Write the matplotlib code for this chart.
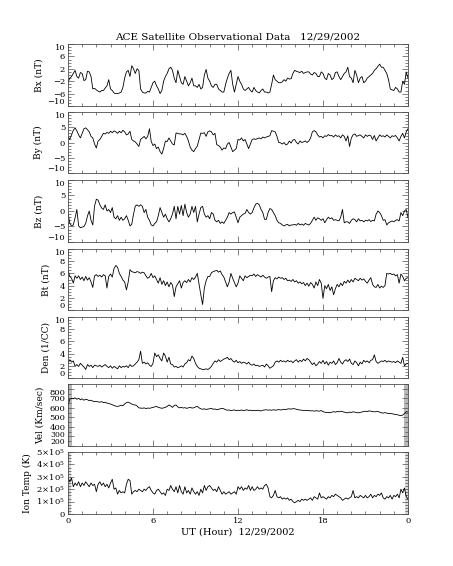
import numpy as np
import matplotlib
matplotlib.use("Agg")
from matplotlib import pyplot as plt
from matplotlib.ticker import MultipleLocator
from matplotlib.transforms import ScaledTranslation

# hours, sampled every 1/8 hour from 0 to 24
hours = np.arange(193) / 8.0

bx = [-2.5, -1.0, -0.5, 0.5, 1.5, -0.5, -1.0, 0.8,
      0.5, -1.8, -1.5, 1.2, 1.0, -0.5, -4.5, -4.3,
      -4.8, -5.2, -5.5, -5.0, -5.0, -4.2, -3.5, -1.5,
      -4.5, -5.0, -5.8, -6.0, -6.0, -5.8, -5.5, -4.0,
      -1.0, 1.0, 1.5, -0.5, 3.0, 2.0, 0.5, 2.0,
      1.5, -4.5, -5.5, -5.8, -5.8, -5.3, -5.5, -4.0,
      -2.5, -2.0, -3.5, -4.5, -6.0, -5.0, -2.0, -0.5,
      0.5, 2.0, 2.5, 1.5, -1.0, -2.5, 1.5, -0.5,
      -2.5, -3.0, -0.5, -2.0, -3.5, -2.5, -1.0, -3.5,
      -3.5, -4.0, -3.0, -4.5, -4.0, 0.0, 1.8, -1.0,
      -2.0, -3.5, -4.0, -3.0, -3.0, -4.5, -5.0, -5.5,
      -5.5, -3.0, -1.0, 0.5, 1.5, -3.0, -5.5, -3.0,
      -0.5, -2.0, -3.0, -4.5, -5.0, -4.5, -4.0, -5.0,
      -5.5, -4.0, -5.0, -5.5, -5.8, -5.0, -4.5, -5.5,
      -5.5, -5.8, -5.5, -3.0, 0.0, -1.5, -2.0, -2.5,
      -2.5, -2.2, -1.5, -2.0, -1.0, -1.3, -1.2, 0.5,
      1.5, 1.2, 1.0, 0.8, 1.2, 0.5, 0.8, 1.0,
      1.0, 0.3, 0.0, 0.8, 0.5, -0.5, -0.5, 1.0,
      0.5, -1.0, -1.5, 0.5, 0.0, -1.5, -1.0, 0.8,
      1.0, -0.5, -1.5, -0.5, 0.5, 1.0, 2.5, -0.5,
      -1.0, -2.5, 1.5, 0.0, -2.5, -1.0, -0.5, -2.5,
      -2.0, -1.0, -0.5, 0.0, 0.5, 1.5, 2.0, 2.8,
      3.5, 2.5, 2.5, 1.5, 0.5, -1.5, -4.5, -4.8,
      -5.0, -4.0, -4.5, -5.5, -5.5, -2.0, -3.0, 1.0,
      -1.0]

by = [2.0, 1.0, 2.5, 4.0, 4.8, 3.8, 2.5, 1.5,
      3.0, 4.5, 4.8, 4.2, 3.5, 2.0, 1.5, -0.5,
      -1.8, 0.5, 1.0, 2.0, 3.0, 2.8, 3.3, 3.0,
      3.7, 3.2, 3.8, 3.5, 3.0, 3.7, 3.2, 4.0,
      3.5, 2.5, 2.8, 3.7, 1.0, 0.5, 0.2, -0.5,
      -1.3, 1.0, 1.5, 2.0, 1.2, 2.0, 4.5, 0.3,
      -1.0, -0.5, -2.0, -1.5, -3.0, -3.8, -2.0, 0.5,
      0.3, 1.5, 0.5, -0.5, -0.8, 3.1, 3.0, 2.8,
      2.8, 2.5, 3.0, 2.0, 0.5, -1.5, -2.5, -3.0,
      -2.0, -1.2, 1.0, 3.1, 3.0, 3.2, 2.0, 3.5,
      3.8, 3.5, 2.5, 3.0, -0.7, -1.0, -1.5, -2.5,
      -1.8, -2.0, -0.5, 0.0, -1.5, -3.0, -2.5, -2.0,
      1.0, 0.8, 1.5, 0.5, 1.0, -0.5, -2.0, -0.5,
      1.0, 1.2, 1.0, 1.3, 1.5, 1.2, 1.8, 1.5,
      1.8, 2.0, 2.2, 3.9, 3.7, 3.5, 2.0, 0.0,
      -0.1, -0.5, 0.0, -0.8, -0.5, 0.5, -0.2, 0.8,
      1.0, 0.0, -0.5, 0.5, 0.0, 0.2, 0.5, 0.0,
      0.5, 1.5, 3.5, 3.9, 3.5, 2.5, 1.8, 2.0,
      1.5, 2.2, 2.0, 2.6, 2.2, 2.3, 1.8, 2.5,
      2.0, 2.2, 1.5, 2.5, 2.0, 0.5, 2.2, -1.3,
      1.5, 2.5, 2.8, 2.0, 2.3, 2.5, 2.0, 1.5,
      2.5, 2.0, 2.4, 2.2, 1.0, 2.3, 0.5, 1.5,
      2.5, 2.0, 2.2, 1.8, 2.5, 2.0, 1.5, 2.2,
      2.0, 2.3, 1.5, 0.5, 2.0, 3.0, 1.5, 3.5,
      4.5]

bz = [-0.5, -4.0, -4.8, -4.5, -2.2, 0.5, -4.8, -5.4,
      -5.2, -5.0, -4.0, -1.6, 0.0, -3.0, -4.5, 1.6,
      3.8, 3.5, 2.0, 1.0, 0.5, 2.0, 0.0, 0.5,
      -0.5, 1.1, -2.0, -2.5, -1.5, -3.0, -2.0, -3.0,
      -2.5, -1.5, -3.0, -4.8, -4.3, -1.0, 1.6, 2.0,
      1.5, 2.0, 1.5, -0.5, 0.5, -2.0, -3.0, -4.5,
      -4.8, -4.0, -3.5, -1.5, 1.1, -0.5, -2.0, -1.0,
      -2.5, -3.5, -2.5, -1.0, 1.5, -2.5, 1.5, -1.0,
      1.8, -1.5, 2.2, -0.5, -2.0, -1.0, 1.5, -0.5,
      1.5, -3.5, -1.0, 1.1, 1.5, -1.0, -2.0, -1.5,
      -2.5, -0.5, -1.0, -3.0, -3.5, -3.0, -4.0, -3.5,
      -4.0, -3.0, -2.0, -0.5, -1.0, -0.5, -0.3, -2.0,
      -3.8, -2.0, -1.5, -1.0, -0.8, 0.5, -0.5, -1.0,
      -0.5, 1.0, 2.2, 2.5, 2.0, 0.5, -0.5, -2.7,
      -2.7, -0.5, 0.8, 0.5, -0.5, -1.5, -3.0, -3.8,
      -4.0, -4.5, -4.8, -4.5, -4.3, -4.8, -4.5, -4.5,
      -4.3, -4.6, -4.0, -4.5, -4.2, -4.6, -4.0, -4.3,
      -4.5, -4.0, -3.0, -2.0, -3.0, -2.2, -2.5, -3.0,
      -2.5, -3.8, -2.8, -2.0, -2.5, -2.2, -3.0, -2.8,
      -3.0, -3.2, -2.0, 0.5, -3.8, -3.5, -3.5, -4.0,
      -3.0, -2.5, -2.8, -3.5, -2.5, -3.2, -3.0, -3.5,
      -3.0, -3.2, -2.8, -3.4, -3.0, -3.2, -1.0, 0.0,
      -0.5, -1.5, -3.0, -2.8, -4.5, -3.8, -3.5, -3.2,
      -3.5, -3.0, -2.8, -3.2, -0.5, -1.5, 0.0, 0.5,
      -2.2]

bt = [6.6, 5.5, 5.2, 4.4, 5.6, 5.2, 5.6, 5.0,
      5.4, 4.8, 5.5, 4.9, 5.3, 4.6, 3.7, 5.6,
      5.8, 5.5, 5.7, 5.4, 5.8, 5.6, 3.6, 5.5,
      5.9, 5.4, 6.8, 7.3, 7.0, 6.0, 5.5, 4.9,
      4.6, 3.3, 4.6, 6.6, 6.3, 6.2, 6.1, 6.3,
      6.2, 6.0, 6.2, 6.1, 5.6, 5.2, 5.4, 6.0,
      5.3, 5.6, 5.0, 4.4, 5.3, 4.2, 4.8, 4.0,
      4.6, 3.8, 4.5, 4.1, 2.2, 3.8, 4.3, 4.8,
      3.6, 4.5, 4.8, 4.5, 5.0, 4.6, 5.3, 5.0,
      5.4, 6.0, 4.2, 2.5, 0.9, 3.6, 4.8, 5.5,
      5.5, 6.1, 6.3, 6.4, 6.5, 6.2, 6.4, 5.8,
      5.4, 4.6, 3.8, 4.6, 6.0, 5.2, 4.5, 3.8,
      4.4, 5.6, 5.2, 4.8, 5.6, 5.3, 5.5, 5.7,
      5.6, 5.9, 5.5, 5.8, 5.6, 5.4, 5.7, 5.4,
      5.2, 5.4, 5.5, 3.0, 4.8, 5.3, 5.1, 5.4,
      5.2, 5.3, 5.0, 5.2, 4.8, 4.9, 4.7, 5.0,
      4.6, 4.8, 4.4, 4.6, 4.3, 4.5, 4.0, 4.4,
      3.9, 4.5, 4.2, 3.6, 4.6, 4.0, 5.0, 4.4,
      1.9, 4.0, 3.5, 4.2, 3.2, 3.8, 2.5, 3.5,
      4.2, 3.8, 4.4, 4.0, 4.7, 4.4, 4.9, 4.5,
      5.0, 4.6, 5.2, 5.0, 4.8, 5.2, 4.9, 5.1,
      4.7, 4.4, 4.9, 5.3, 4.2, 3.8, 3.7, 4.2,
      3.6, 3.9, 3.7, 4.0, 6.0, 5.9, 6.0, 5.8,
      5.9, 5.6, 5.8, 4.4, 5.9, 5.5, 4.8, 5.2,
      5.3]

den = [2.4, 3.0, 2.6, 2.8, 1.9, 2.2, 1.9, 2.4,
       2.1, 1.8, 1.4, 2.2, 1.9, 2.1, 1.7, 2.1,
       2.0, 1.9, 2.1, 1.8, 2.0, 2.2, 1.9, 1.7,
       2.0, 1.6, 1.9, 1.7, 1.5, 2.0, 1.7, 1.9,
       1.8, 2.0, 1.7, 2.2, 1.9, 2.0, 2.3, 2.6,
       3.0, 4.4, 2.4, 2.6, 2.3, 2.5, 2.1, 1.9,
       2.4, 4.1, 3.5, 3.8, 3.2, 2.8, 4.1, 3.6,
       2.6, 3.4, 2.3, 2.2, 1.8, 1.9, 1.7, 1.8,
       2.0, 1.8, 2.3, 2.5, 3.0, 2.8, 3.6, 3.2,
       2.4, 1.9, 1.6, 1.5, 1.4, 1.4, 1.5, 1.4,
       1.6, 1.9, 2.4, 2.8, 2.6, 3.0, 2.7, 2.9,
       3.1, 3.2, 3.4, 3.0, 3.2, 2.8, 2.6, 2.9,
       2.5, 2.7, 2.4, 2.6, 2.5, 2.3, 2.6, 2.2,
       2.1, 2.3, 2.0, 2.1, 1.9, 2.0, 2.1, 1.8,
       2.3, 2.0, 1.6, 1.8, 2.0, 2.6, 2.8, 2.6,
       2.9, 2.7, 2.8, 2.6, 2.9, 2.7, 2.8, 2.5,
       2.8, 3.0, 2.6, 2.9, 2.7, 3.1, 2.8, 3.2,
       3.0, 2.6, 2.2, 2.5, 2.0, 2.3, 2.7, 2.4,
       2.9, 2.3, 2.7, 2.1, 2.6, 2.4, 2.8, 2.2,
       2.5, 3.2, 2.6, 2.3, 2.8, 3.0, 2.7, 3.1,
       2.4, 2.2, 2.8, 2.5, 2.0, 2.6, 2.3, 2.9,
       2.6, 2.8, 2.5, 2.9, 3.0, 3.8, 2.7, 2.4,
       2.6, 2.8, 2.7, 2.9, 2.6, 2.8, 2.7, 2.6,
       2.7, 2.5, 2.8, 2.6, 2.4, 3.4, 2.0, 2.3,
       2.4]

vel = [630, 690, 700, 695, 705, 690, 700, 685,
       695, 680, 690, 685, 675, 680, 670, 665,
       668, 662, 660, 665, 655, 658, 650, 645,
       640, 632, 625, 618, 615, 620, 628, 622,
       640, 655, 660, 650, 640, 632, 630, 620,
       600, 598, 595, 600, 592, 598, 595, 600,
       605, 610, 615, 605, 600, 595, 600, 605,
       615, 630, 620, 605, 625, 630, 610, 600,
       605, 598, 602, 595, 600, 605, 598, 600,
       610, 615, 600, 590, 585, 590, 582, 588,
       590, 595, 585, 588, 580, 585, 590, 595,
       590, 580, 575, 578, 572, 575, 578, 570,
       575, 572, 578, 570, 575, 580, 572, 576,
       570, 574, 570, 575, 572, 568, 575, 578,
       580, 576, 578, 575, 580, 576, 578, 582,
       578, 580, 585, 582, 588, 590, 586, 592,
       590, 585, 580, 578, 575, 572, 574, 570,
       572, 568, 570, 565, 570, 568, 565, 572,
       560, 555, 550, 552, 548, 555, 560, 555,
       562, 558, 565, 560, 555, 550, 548, 555,
       552, 558, 555, 550, 548, 552, 556, 560,
       565, 560, 568, 565, 562, 558, 560, 562,
       555, 548, 545, 550, 545, 540, 542, 538,
       535, 530, 528, 522, 518, 525, 540, 560,
       555]

# ion temperature in units of 1e5 K
temp = [2.9, 2.6, 2.9, 2.2, 2.5, 2.3, 2.6, 2.2,
        2.5, 2.3, 2.6, 2.4, 2.2, 2.5, 2.3, 2.4,
        1.8, 2.4, 2.6, 2.3, 2.5, 2.2, 2.4, 2.1,
        2.5, 2.8, 2.0, 2.1, 1.6, 1.9, 1.7, 1.8,
        1.7, 2.4, 2.8, 2.7, 1.6, 1.8, 1.9, 1.8,
        2.0, 1.9, 1.8, 2.0, 1.9, 2.1, 2.2, 1.9,
        1.7, 1.6, 1.9, 2.0, 1.8, 1.6, 1.7, 1.5,
        2.0, 1.9, 2.3, 2.0, 1.8, 2.2, 1.7, 2.3,
        1.8, 1.6, 2.2, 1.7, 1.9, 1.6, 2.1, 1.8,
        1.6, 1.8, 1.5, 2.0, 1.7, 2.3, 1.9, 2.2,
        2.3, 2.1, 1.9, 2.0, 1.8, 2.2, 1.9, 1.6,
        1.8, 1.6, 1.7, 1.8, 1.6, 1.7, 1.8, 1.6,
        2.2, 2.0, 2.2, 1.9, 2.1, 2.0, 2.3, 1.9,
        2.2, 1.9, 2.0, 2.2, 2.0, 2.1, 2.0, 2.3,
        2.4, 2.1, 1.4, 1.3, 1.5, 1.9, 1.4, 1.3,
        1.4, 1.2, 1.3, 1.2, 1.3, 1.1, 1.2, 1.0,
        0.9, 1.0, 1.1, 1.0, 1.2, 1.1, 1.2, 1.1,
        1.2, 1.3, 1.1, 1.4, 1.3, 1.2, 1.7, 1.3,
        1.4, 1.3, 1.2, 1.4, 1.3, 1.5, 1.4, 1.6,
        1.5, 1.4, 1.3, 1.1, 1.2, 1.3, 1.2, 1.3,
        1.4, 1.9, 1.3, 1.4, 1.3, 1.5, 1.4, 1.3,
        1.5, 1.3, 1.4, 1.6, 1.3, 1.5, 1.4, 1.6,
        1.5, 1.7, 1.3, 1.2, 1.4, 1.3, 1.5, 1.2,
        1.5, 1.4, 1.6, 1.3, 2.0, 1.7, 2.1, 1.4,
        1.2]
temp = np.array(temp) * 1e5

xticks = [0, 6, 12, 18, 24]
xticklabels = ['0', '6', '12', '18', '0']
temp_ticklabels = ['0', r'$1\!\times\!10^5$', r'$2\!\times\!10^5$',
                   r'$3\!\times\!10^5$', r'$4\!\times\!10^5$',
                   r'$5\!\times\!10^5$']

plt.rcParams['font.family'] = ['DejaVu Serif']
plt.rcParams['mathtext.fontset'] = 'dejavuserif'

W, H = 453, 566
fig = plt.figure(figsize=(W / 100, H / 100), dpi=100)

# pixel rows (top, bottom) of each panel
rows = [(44, 106), (112, 173), (180, 242), (249, 310),
        (317, 378), (384, 446), (452, 514)]
left, right = 68, 408

panels = [
    (bx, 'Bx (nT)', (-10, 10), [-10, -6, -2, 2, 6, 10], 1),
    (by, 'By (nT)', (-10, 10), [-10, -5, 0, 5, 10], 1),
    (bz, 'Bz (nT)', (-10, 10), [-10, -5, 0, 5, 10], 1),
    (bt, 'Bt (nT)', (0, 10), [0, 2, 4, 6, 8, 10], 0.5),
    (den, 'Den (1/CC)', (0, 10), [0, 2, 4, 6, 8, 10], 0.5),
    (vel, 'Vel (Km/sec)', (200, 850), [200, 300, 400, 500, 600, 700, 800], 50),
    (temp, 'Ion Temp (K)', (0, 5e5), [0, 1e5, 2e5, 3e5, 4e5, 5e5], 0.25e5),
]

axes = []
for i, (vals, label, ylim, yt, ymin) in enumerate(panels):
    top, bot = rows[i]
    ax = fig.add_axes([left / W, 1 - bot / H, (right - left) / W, (bot - top) / H])
    if i == 5:
        # grey data-gap bands on the velocity panel edges
        ax.axvspan(0, 0.28, color='0.72', lw=0)
        ax.axvspan(23.72, 24, color='0.72', lw=0)
    if i == 6:
        ax.axvspan(0, 0.2, color='0.85', lw=0)
        ax.axvspan(23.8, 24, color='0.85', lw=0)
    ax.plot(hours, vals, color='black', lw=0.6)
    ax.set_xlim(0, 24)
    ax.set_ylim(*ylim)
    ax.set_xticks(xticks)
    ax.xaxis.set_minor_locator(MultipleLocator(1))
    ax.set_yticks(yt)
    if i == 6:
        ax.set_yticklabels(temp_ticklabels)
    ax.yaxis.set_minor_locator(MultipleLocator(ymin))
    ax.tick_params(which='both', direction='in', top=True, right=True,
                   width=0.5, color='0.3', labelsize=6, pad=2)
    ax.tick_params(which='major', length=4)
    ax.tick_params(which='minor', length=2)
    if i < 6:
        # keep the end labels inside the panel height, as the original does
        yticks_obj = ax.yaxis.get_major_ticks()
        yticks_obj[0].label1.set_verticalalignment('bottom')
        yticks_obj[-1].label1.set_verticalalignment('top')
    for s in ax.spines.values():
        s.set_linewidth(0.6)
        s.set_color('0.3')
    ax.set_ylabel(label, fontsize=6.5, labelpad=3)
    if i < len(panels) - 1:
        ax.set_xticklabels([])
    axes.append(ax)

# the crowded 200/300 labels of the velocity panel
vt = axes[5].yaxis.get_major_ticks()
vt[0].label1.set_fontsize(5.5)
vt[1].label1.set_fontsize(5.5)
vt[1].label1.set_transform(vt[1].label1.get_transform()
                           + ScaledTranslation(0, 1.5 / 72, fig.dpi_scale_trans))

axes[6].set_xticklabels(xticklabels)
axes[6].set_xlabel('UT (Hour)  12/29/2002', fontsize=7, labelpad=2)

axes[0].set_title('ACE Satellite Observational Data   12/29/2002',
                  fontsize=7.5, pad=3)

fig.savefig('out.png', dpi=100)
